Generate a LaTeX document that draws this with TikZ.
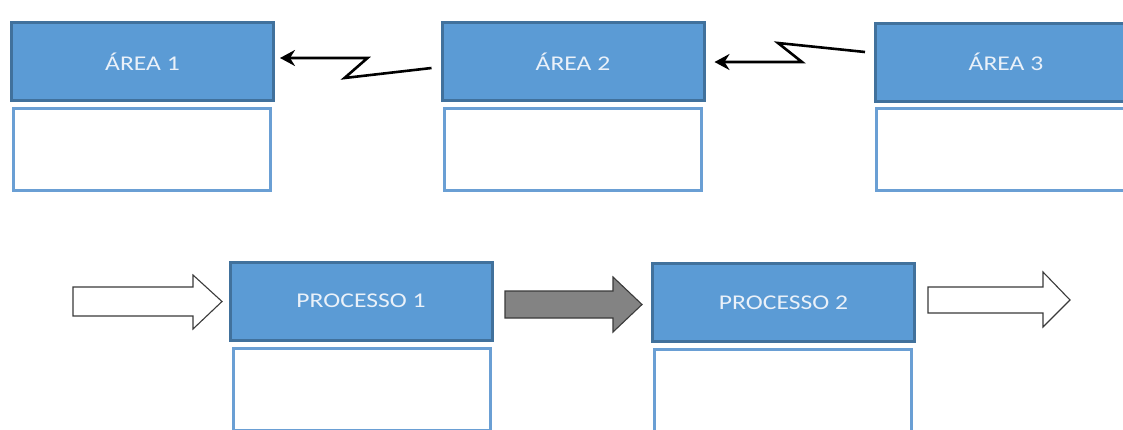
\documentclass[tikz,border=0pt]{standalone}
\usepackage{fontspec}
\setmainfont{Carlito}
\usetikzlibrary{calc,arrows.meta}
\definecolor{hdrfill}{HTML}{5B9BD5}
\definecolor{hdrline}{HTML}{41719C}
\definecolor{boxline}{HTML}{6A9FD4}
\definecolor{hdrtext}{HTML}{EAF1F9}
\definecolor{arrgray}{HTML}{838383}
\definecolor{arrline}{HTML}{3A3A3A}
\tikzset{
  hdr/.style={draw=hdrline, fill=hdrfill, line width=3pt, minimum width=262pt,
    minimum height=78pt, inner sep=0pt, text=hdrtext,
    font=\fontsize{21}{24}\selectfont},
  body/.style={draw=boxline, fill=white, line width=3pt, minimum width=257pt,
    minimum height=82pt, inner sep=0pt},
  zig/.style={line width=2.6pt, line join=miter, -{Stealth[length=15pt,width=16pt,inset=5pt]}},
  blockw/.style={draw=arrline, fill=white, line width=1.1pt, line join=miter},
  blockg/.style={draw=arrline, fill=arrgray, line width=1.1pt, line join=miter}
}
\newcommand{\wide}[1]{\scalebox{1.22}[1]{#1}}
\begin{document}
\begin{tikzpicture}[x=1pt,y=-1pt]
\useasboundingbox (0,0) rectangle (1123,429);
\clip (0,0) rectangle (1123,429);
\fill[white] (0,0) rectangle (1123,429);

% top row: areas
\node[hdr]  (a1h) at (142.5,61.5) {\wide{ÁREA 1}};
\node[body] (a1b) at (142,149.5) {};
\node[hdr]  (a2h) at (573,61.5) {\wide{ÁREA 2}};
\node[body] (a2b) at (573,149.5) {};
% the third area runs off the right edge
\node[hdr, minimum width=320pt, anchor=west]  (a3h) at (874,62) {};
\node[hdr, draw=none, fill=none] (a3t) at (1006,62) {\wide{ÁREA 3}};
\node[body, minimum width=320pt, anchor=west] (a3b) at (875,149.5) {};

% zigzag links between the areas
\draw[zig] ($(a2h.west)+(-9,6.5)$) -- ++(-87,10) -- ++(23,-20)
  -- ($(a1h.east)+(5,-3.5)$);
\draw[zig] ($(a3h.west)+(-9,-10)$) -- ++(-87,-9) -- ++(24,19)
  -- ($(a2h.east)+(9,0.5)$);

% bottom row: processes
\node[hdr]  (p1h) at (361,301) {\wide{PROCESSO 1}};
\node[body] (p1b) at (361.5,389.5) {};
\node[hdr]  (p2h) at (783.5,302.5) {\wide{PROCESSO 2}};
\node[body] (p2b) at (782.5,390) {};

% block arrows along the process flow
\draw[blockw] (73,287) -- (193,287) -- (193,275) -- (222,301.5) -- (193,329)
  -- (193,316) -- (73,316) -- cycle;
\draw[blockg] (505,291) -- (613,291) -- (613,277) -- (642,304.5) -- (613,332)
  -- (613,318) -- (505,318) -- cycle;
\draw[blockw] (928,287) -- (1043,287) -- (1043,272) -- (1070,300) -- (1043,327)
  -- (1043,313) -- (928,313) -- cycle;
\end{tikzpicture}
\end{document}
